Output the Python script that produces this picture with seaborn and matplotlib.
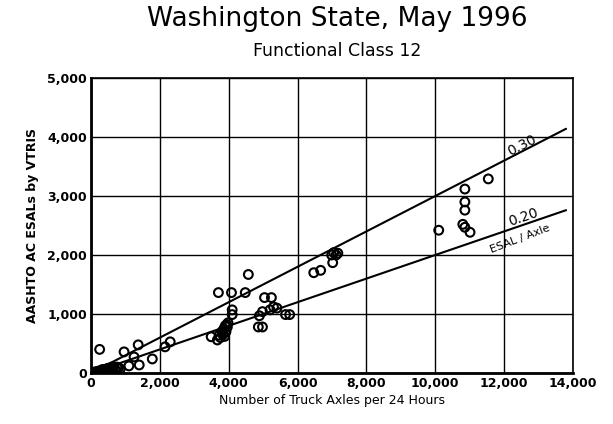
import matplotlib
matplotlib.use("Agg")
import matplotlib.pyplot as plt
import seaborn as sns
import pandas as pd
import numpy as np

# Data
axles = [30, 80, 120, 150, 200, 250, 300, 350, 400, 450, 500, 550, 600, 650, 700, 750, 800, 850,
         250, 960, 1370, 1250, 1400, 1100, 1780, 2150, 2300,
         3490, 3670, 3720, 3760, 3800, 3830, 3860, 3880, 3900, 3920, 3940, 3960, 3980,
         3700, 4080, 4100, 4100, 4480, 4570, 4890, 4860, 4980, 5040, 5240, 5200, 5300, 5400,
         4980, 5650, 5770, 6470, 6670, 6990, 7050, 7120, 7170, 7020,
         10100, 10860, 10860, 10860, 10800, 10860, 11010, 11540]
esals = [0, 10, 20, 0, 30, 20, 50, 60, 40, 70, 80, 60, 100, 90, 60, 100, 90, 70,
         400, 358, 477, 272, 136, 120, 238, 443, 528,
         614, 560, 640, 600, 700, 650, 750, 620, 800, 700, 820, 780, 850,
         1363, 1363, 1070, 990, 1363, 1670, 970, 780, 780, 1278, 1278, 1070, 1120, 1100,
         1040, 990, 990, 1700, 1740, 2000, 2040, 2000, 2030, 1870,
         2420, 3118, 2900, 2760, 2520, 2470, 2385, 3290]
ratios = [0.30, 0.20]
ratio_labels = ["0.30", "0.20"]
x_ticks = [0, 2000, 4000, 6000, 8000, 10000, 12000, 14000]
y_ticks = [0, 1000, 2000, 3000, 4000, 5000]
line_end = 13800

df = pd.DataFrame({"axles": axles, "esals": esals})

sns.set_style("white")
plt.rcParams['font.family'] = ['DejaVu Sans']
plt.rcParams['text.color'] = 'black'
plt.rcParams['axes.labelcolor'] = 'black'
plt.rcParams['xtick.color'] = 'black'
plt.rcParams['ytick.color'] = 'black'

fig = plt.figure(figsize=(6.13, 4.24), dpi=100)
ax = fig.add_axes([0.1485, 0.1203, 0.7862, 0.6957])

xs = np.array([0, line_end])
for r in ratios:
    ax.plot(xs, r * xs, color="black", lw=1.5, zorder=3)

sns.scatterplot(data=df, x="axles", y="esals", ax=ax, s=40, marker="o",
                facecolors="none", edgecolor="black", linewidth=1.5, zorder=4)

ax.set_xlim(0, 14000)
ax.set_ylim(0, 5000)
ax.set_xticks(x_ticks)
ax.set_yticks(y_ticks)
ax.set_xticklabels([f"{v:,}" for v in x_ticks], fontsize=9, fontweight="bold")
ax.set_yticklabels([f"{v:,}" for v in y_ticks], fontsize=9, fontweight="bold")
ax.grid(True, color="black", lw=1.0)
ax.set_axisbelow(True)
for s in ax.spines.values():
    s.set_color("black")
    s.set_linewidth(1.2)
ax.spines["left"].set_linewidth(2)
ax.spines["bottom"].set_linewidth(2)
ax.tick_params(length=0, pad=3)

ax.set_xlabel("Number of Truck Axles per 24 Hours", fontsize=9, labelpad=3)
ax.set_ylabel("AASHTO AC ESALs by VTRIS", fontsize=9, fontweight="bold", labelpad=6)

ax.text(12530, 3850, ratio_labels[0], rotation=27, fontsize=10, ha="center", va="center")
ax.text(12550, 2640, ratio_labels[1], rotation=19, fontsize=10, ha="center", va="center")
ax.text(12470, 2280, "ESAL / Axle", rotation=21, fontsize=8, ha="center", va="center")

fig.text(0.55, 0.955, "Washington State, May 1996", fontsize=19, ha="center", va="center")
fig.text(0.55, 0.88, "Functional Class 12", fontsize=12.5, ha="center", va="center")

fig.savefig("out.png", dpi=100)
